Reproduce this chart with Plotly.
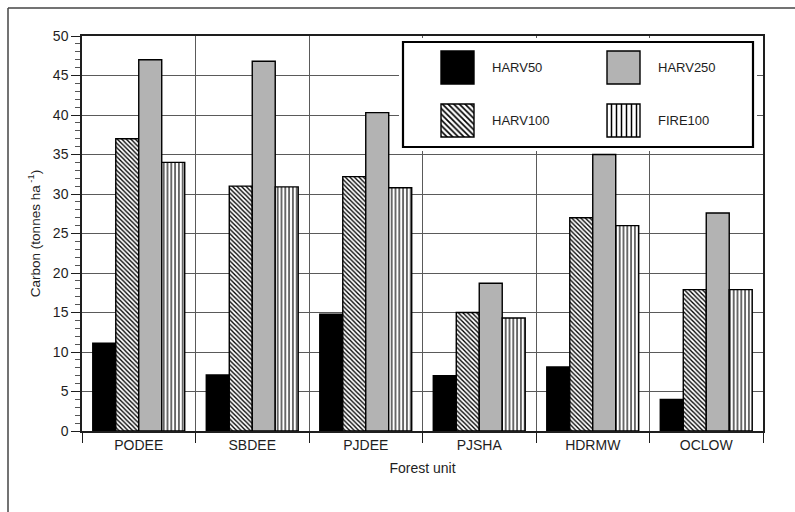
import plotly.graph_objects as go

# Carbon by forest unit and scenario
units = ["PODEE", "SBDEE", "PJDEE", "PJSHA", "HDRMW", "OCLOW"]
harv50 = [11.1, 7.1, 14.8, 7.0, 8.1, 4.0]
harv100 = [37.0, 31.0, 32.2, 15.0, 27.0, 17.9]
harv250 = [47.0, 46.8, 40.3, 18.7, 35.0, 27.6]
fire100 = [34.0, 30.9, 30.8, 14.3, 26.0, 17.9]

series_names = ["HARV50", "HARV100", "HARV250", "FIRE100"]
series_values = [harv50, harv100, harv250, fire100]

W, H = 795, 512
PLOT_L, PLOT_R, PLOT_T, PLOT_B = 82, 763, 36, 431
FONT = "Liberation Sans, Arial, Helvetica, sans-serif"
INK = "#1e1e1e"
GRID = "#5a5a5a"
GRAY = "#b3b3b3"

styles = {
    "HARV50": dict(color="black", shape="", size=4, solidity=0.3),
    "HARV100": dict(color="white", shape="\\", size=3.2, solidity=0.42),
    "HARV250": dict(color=GRAY, shape="", size=4, solidity=0.3),
    "FIRE100": dict(color="white", shape="|", size=3.8, solidity=0.3),
}


def px_x(p):
    return (p - PLOT_L) / (PLOT_R - PLOT_L)


def px_y(p):
    return (PLOT_B - p) / (PLOT_B - PLOT_T)


def bar_marker(st, line_width=1.4, size=None, solidity=None):
    m = dict(color=st["color"], line=dict(color="black", width=line_width))
    if st["shape"]:
        m["pattern"] = dict(shape=st["shape"], fgcolor="black", bgcolor=st["color"],
                            size=size or st["size"], solidity=solidity or st["solidity"],
                            fillmode="replace")
    return m


fig = go.Figure()

for name, vals in zip(series_names, series_values):
    fig.add_trace(go.Bar(x=units, y=vals, name=name, showlegend=False,
                         marker=bar_marker(styles[name])))

# Key drawn as a small panel with its own pixel-scaled axes
KEY_BOX = (403, 753, 42, 147)  # left, right, top, bottom
KEY_PAD = 4
key_pos = {"HARV50": (441, 51), "HARV250": (607, 51),
           "HARV100": (441, 104), "FIRE100": (607, 104)}
SW = 33

fig.add_trace(go.Bar(
    x=[(KEY_BOX[0] + KEY_BOX[1]) / 2], y=[KEY_BOX[3] - KEY_BOX[2]], base=[KEY_BOX[2]],
    width=[KEY_BOX[1] - KEY_BOX[0]], xaxis="x2", yaxis="y2", offsetgroup="key",
    showlegend=False, hoverinfo="skip",
    marker=dict(color="white", line=dict(color="black", width=2.2)),
))

annotations = []
for name in ["HARV50", "HARV250", "HARV100", "FIRE100"]:
    st = styles[name]
    left, top = key_pos[name]
    size = 5 if st["shape"] == "|" else 4 if st["shape"] else None
    fig.add_trace(go.Bar(
        x=[left + SW / 2], y=[SW], base=[top], width=[SW],
        xaxis="x2", yaxis="y2", offsetgroup="key",
        showlegend=False, hoverinfo="skip",
        marker=bar_marker(st, line_width=1.4, size=size),
    ))
    annotations.append(dict(
        x=left + SW + 16, y=top + SW / 2, xref="x2", yref="y2",
        text=name, showarrow=False, xanchor="left", yanchor="middle",
        font=dict(family=FONT, size=13, color=INK),
    ))

# Outer frame (top and left edges)
shapes = [
    dict(type="line", xref="paper", yref="paper",
         x0=px_x(8), x1=px_x(W + 5), y0=px_y(8), y1=px_y(8),
         line=dict(color="#444", width=1.5)),
    dict(type="line", xref="paper", yref="paper",
         x0=px_x(8), x1=px_x(8), y0=px_y(8), y1=px_y(H + 5),
         line=dict(color="#444", width=1.5)),
]

fig.update_layout(
    width=W, height=H,
    margin=dict(l=PLOT_L, r=W - PLOT_R, t=PLOT_T, b=H - PLOT_B),
    paper_bgcolor="white", plot_bgcolor="white",
    barmode="group", bargap=0.19, bargroupgap=0.0,
    font=dict(family=FONT, size=14, color=INK),
    xaxis=dict(
        type="category", tickson="boundaries",
        ticks="outside", ticklen=10, tickwidth=1.3, tickcolor=INK,
        showgrid=True, gridcolor=GRID, gridwidth=1.3,
        showline=True, mirror=True, linecolor=INK, linewidth=1.5,
        tickfont=dict(size=14, color=INK),
        title=dict(text="Forest unit", font=dict(size=14, color=INK), standoff=12),
    ),
    yaxis=dict(
        range=[0, 50], dtick=5, tick0=0,
        ticks="outside", ticklen=9, tickwidth=1.3, tickcolor=INK,
        minor=dict(dtick=1, ticks="outside", ticklen=5, tickwidth=1, tickcolor="#555", showgrid=False),
        showgrid=True, gridcolor=GRID, gridwidth=1.3, zeroline=False,
        showline=True, mirror=True, linecolor=INK, linewidth=1.5,
        tickfont=dict(size=14, color=INK),
        title=dict(text="Carbon (tonnes ha<sup> -1</sup>)", font=dict(size=13.5, color=INK), standoff=9),
    ),
    xaxis2=dict(
        domain=[px_x(KEY_BOX[0] - KEY_PAD), px_x(KEY_BOX[1] + KEY_PAD)],
        range=[KEY_BOX[0] - KEY_PAD, KEY_BOX[1] + KEY_PAD],
        visible=False, showgrid=False, zeroline=False, fixedrange=True, anchor="y2",
    ),
    yaxis2=dict(
        domain=[px_y(KEY_BOX[3] + KEY_PAD), px_y(KEY_BOX[2] - KEY_PAD)],
        range=[KEY_BOX[3] + KEY_PAD, KEY_BOX[2] - KEY_PAD],
        visible=False, showgrid=False, zeroline=False, fixedrange=True, anchor="x2",
    ),
    annotations=annotations,
    shapes=shapes,
    showlegend=False,
)

fig.write_html("out.html")
